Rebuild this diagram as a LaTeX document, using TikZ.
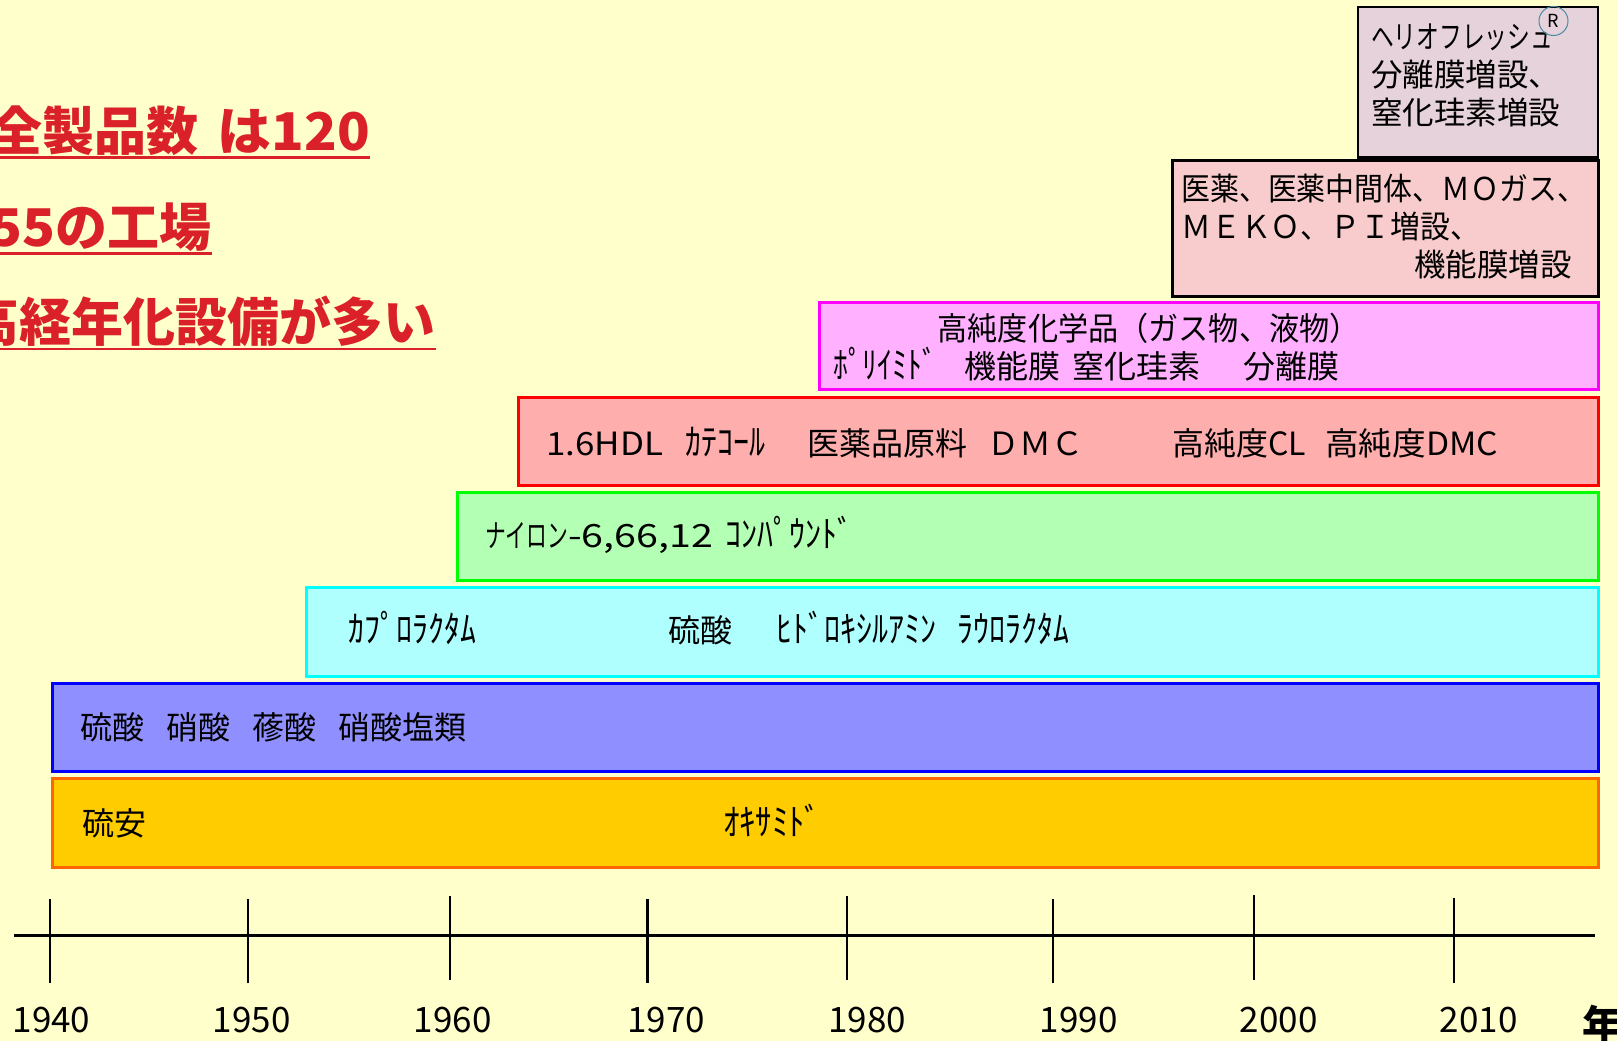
\documentclass[tikz,border=0pt]{standalone}
\usepackage{fontspec}
\usepackage{graphicx}
\setmainfont{Noto Sans CJK JP}
\definecolor{bgc}{RGB}{255,255,204}
\definecolor{ttlred}{RGB}{218,32,40}
\definecolor{orgF}{RGB}{255,204,0}
\definecolor{orgD}{RGB}{255,102,0}
\definecolor{bluF}{RGB}{143,143,255}
\definecolor{bluD}{RGB}{0,0,255}
\definecolor{cyaF}{RGB}{176,255,255}
\definecolor{cyaD}{RGB}{0,255,255}
\definecolor{grnF}{RGB}{179,255,179}
\definecolor{grnD}{RGB}{0,255,0}
\definecolor{redF}{RGB}{255,174,174}
\definecolor{redD}{RGB}{255,0,0}
\definecolor{magF}{RGB}{255,176,255}
\definecolor{magD}{RGB}{255,0,255}
\definecolor{pnkF}{RGB}{248,204,204}
\definecolor{helF}{RGB}{230,210,218}
\definecolor{regc}{RGB}{70,140,165}
\newcommand\fw[2]{\resizebox{#1pt}{\height}{#2}}
\newcommand\hk[2]{\resizebox{#1pt}{1.15\height}{#2}}
\newcommand\hkn[1]{\scalebox{1}[1.15]{#1}}
\begin{document}
\begin{tikzpicture}[x=1pt,y=-1pt,
  bar/.style={rectangle, inner sep=0pt, outer sep=0pt, line width=3pt, anchor=north west},
  t/.style={anchor=base west, inner sep=0pt, font=\fontsize{32}{32}\selectfont},
  ts/.style={anchor=base west, inner sep=0pt, font=\fontsize{31.5}{31.5}\selectfont},
  ttl/.style={anchor=base east, inner sep=0pt, text=ttlred, font=\bfseries\fontsize{52}{52}\selectfont},
  ul/.style={draw=ttlred, line width=2.5pt},
  yr/.style={inner sep=0pt, font=\fontsize{35}{35}\selectfont},
  tick/.style={line width=2pt},
  axis/.style={line width=3pt}]
\useasboundingbox (0,0) rectangle (1617,1041);
\clip (0,0) rectangle (1617,1041);
\fill[bgc] (0,0) rectangle (1617,1041);

% title lines
\node[ttl] (t1) at (370,150) {全製品数\hspace{19pt}\fw{152}{は120}};
\node[ttl] (t2) at (212,246) {\fw{66}{55}の工場};
\node[ttl] (t3) at (436,341) {高経年化設備が多い};
\draw[ul] ([yshift=-7.5pt]t1.base west) -- ([yshift=-7.5pt]t1.base east);
\draw[ul] ([yshift=-7.5pt]t2.base west) -- ([yshift=-7.5pt]t2.base east);
\draw[ul] ([yshift=-8pt]t3.base west) -- ([yshift=-8pt]t3.base east);

% bars
\node[bar, fill=helF, draw=black, line width=2.5pt, minimum width=240pt, minimum height=150.5pt] (helio) at (1358,7) {};
\node[bar, fill=pnkF, draw=black, minimum width=425.5pt, minimum height=136pt] (pink) at (1172.5,160) {};
\node[bar, fill=magF, draw=magD, minimum width=779pt, minimum height=87pt] (mag) at (819,302) {};
\node[bar, fill=redF, draw=redD, minimum width=1080pt, minimum height=88pt] (red) at (518,397) {};
\node[bar, fill=grnF, draw=grnD, minimum width=1141pt, minimum height=88pt] (grn) at (457,492) {};
\node[bar, fill=cyaF, draw=cyaD, minimum width=1292pt, minimum height=89pt] (cya) at (306,587) {};
\node[bar, fill=bluF, draw=bluD, minimum width=1545.5pt, minimum height=88pt] (blu) at (52.5,683) {};
\node[bar, fill=orgF, draw=orgD, minimum width=1545.5pt, minimum height=89pt] (org) at (52.5,778) {};

% helio box text
\node[ts] (h1) at (1371,49) {\fw{182}{ヘリオフレッシュ}};
\node[ts] (h2) at (1371,86) {分離膜増設、};
\node[ts] (h3) at (1371,124) {窒化珪素増設};
\node[circle, draw=regc, line width=1pt, minimum size=29pt, inner sep=0pt, font=\fontsize{18}{18}\selectfont] (reg) at (1553.5,21) {R};

% pink box text
\node[ts] (p1) at (1181,200) {\fw{405}{医薬、医薬中間体、ＭＯガス、}};
\node[ts] (p2) at (1181,238) {\fw{299}{ＭＥＫＯ、ＰＩ増設、}};
\node[ts] (p3) at (1414,276) {機能膜増設};

% magenta
\node[t] (m1) at (937.5,340) {\fw{422}{高純度化学品（ガス物、液物）}};
\node[t] (m2) at (833,378) {\hk{104}{ﾎﾟﾘｲﾐﾄﾞ}};
\node[t] (m3) at (964,378) {機能膜};
\node[t] (m4) at (1072,378) {窒化珪素};
\node[t] (m5) at (1243,378) {分離膜};

% red
\node[t] (r1) at (546,455) {\fw{117}{1.6HDL}};
\node[t] (r2) at (685,455) {\hk{80}{ｶﾃｺｰﾙ}};
\node[t] (r3) at (807,455) {医薬品原料};
\node[t] (r4) at (987,455) {ＤＭＣ};
\node[t] (r5) at (1172,455) {高純度CL};
\node[t] (r6) at (1325,455) {\fw{173}{高純度DMC}};

% green
\node[t] (g1) at (485,547) {\fw{83}{ナイロン}\fw{145}{-6,66,12}};
\node[t] (g2) at (725,547) {\hk{128}{ｺﾝﾊﾟｳﾝﾄﾞ}};

% cyan
\node[t] (c1) at (348,642) {\hkn{ｶﾌﾟﾛﾗｸﾀﾑ}};
\node[t] (c2) at (668,642) {硫酸};
\node[t] (c3) at (776,642) {\hkn{ﾋﾄﾞﾛｷｼﾙｱﾐﾝ}};
\node[t] (c4) at (957,642) {\hkn{ﾗｳﾛﾗｸﾀﾑ}};

% blue
\node[t] (b1) at (80,739) {硫酸};
\node[t] (b2) at (166,739) {硝酸};
\node[t] (b3) at (252,739) {蓚酸};
\node[t] (b4) at (338,739) {硝酸塩類};

% orange
\node[t] (o1) at (82,835) {硫安};
\node[t] (o2) at (723,835) {\hk{98}{ｵｷｻﾐﾄﾞ}};

% timeline
\coordinate (axL) at (14.4,935);
\coordinate (axR) at (1595,935);
\draw[axis] (axL) -- (axR);
\draw[tick] (49.5,899) -- (49.5,982.7);
\draw[tick] (247.5,899) -- (247.5,982.7);
\draw[tick] (449.6,896) -- (449.6,980);
\draw[tick, line width=2.8pt] (647.6,899) -- (647.6,982.7);
\draw[tick] (846.6,896) -- (846.6,980);
\draw[tick] (1052.9,899) -- (1052.9,982.7);
\draw[tick] (1254,895) -- (1254,980);
\draw[tick] (1454,898) -- (1454,982.7);

\node[yr] (y1940) at (51.5,1020) {1940};
\node[yr] (y1950) at (251.6,1020) {1950};
\node[yr] (y1960) at (452.7,1020) {1960};
\node[yr] (y1970) at (666,1020) {1970};
\node[yr] (y1980) at (867,1020) {1980};
\node[yr] (y1990) at (1078.7,1020) {1990};
\node[yr] (y2000) at (1278.7,1020) {2000};
\node[yr] (y2010) at (1478.8,1020) {2010};
\node[anchor=west, inner sep=0pt, font=\bfseries\fontsize{40}{40}\selectfont] (nen) at (1582,1024) {年};
\end{tikzpicture}
\end{document}
